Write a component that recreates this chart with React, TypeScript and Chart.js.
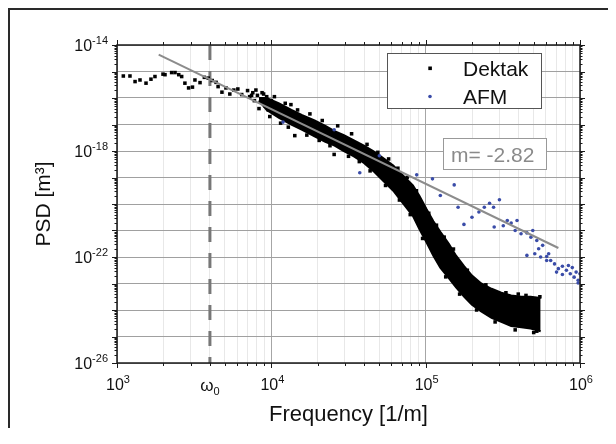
import React, { useEffect, useRef } from "react";
import { Chart, registerables } from "chart.js";

Chart.register(...registerables);

const FONT = "'Liberation Sans', Arial, sans-serif";

// axis ranges & labels
const xMin = 1e3;
const xMax = 1e6;
const yMin = 1e-26;
const yMax = 1e-14;
const xLabelExponents = [3, 4, 5, 6];
const yLabelExponents = [-14, -18, -22, -26];
const omega0Freq = 4000;
const omega0Symbol = "ω";
const omega0Sub = "0";
const xTitle = "Frequency [1/m]";
const yTitle = "PSD [m³]";
const seriesNames = ["Dektak", "AFM"];
const slopeText = "m= -2.82";

// Dektak individual points (log10 frequency, log10 PSD)
const dektakLogFreq = [
  3.041, 3.084, 3.117, 3.149, 3.188, 3.22, 3.246, 3.298, 3.311, 3.354, 3.376, 3.4, 3.419, 3.44, 3.464, 3.489,
  3.505, 3.538, 3.566, 3.591, 3.617, 3.642, 3.655, 3.68, 3.706, 3.731, 3.757, 3.783, 3.808, 3.846, 3.872,
  3.86, 3.88, 3.89, 3.91, 3.93, 3.94, 3.96, 3.97, 3.98, 4.0,
  3.9, 3.92, 3.95, 3.99, 4.02, 4.06, 4.09, 4.11, 4.127, 4.152, 4.17, 4.23, 4.25, 4.31, 4.33, 4.38, 4.407,
  4.43, 4.5, 4.52, 4.57, 4.62, 4.64, 4.69, 4.74, 4.76, 4.82, 4.83, 4.88, 4.9, 4.94, 4.98, 5.02, 5.057,
  5.07, 5.12, 5.13, 5.18, 5.22, 5.27, 5.33, 5.39, 5.45, 5.52, 5.58, 5.6, 5.65, 5.7, 5.72, 5.74,
];
const dektakLogPsd = [
  -15.17, -15.17, -15.38, -15.32, -15.44, -15.29, -15.19, -15.1, -15.12, -15.04, -15.04, -15.12, -15.19, -15.44, -15.62, -15.59,
  -15.32, -15.42, -15.22, -15.25, -15.34, -15.41, -15.57, -15.78, -15.62, -15.85, -15.7, -15.66, -15.87, -15.72, -15.9,
  -15.95, -15.8, -16.1, -15.9, -16.15, -15.8, -16.3, -15.95, -16.45, -16.1,
  -15.7, -16.4, -15.85, -16.7, -15.95, -16.95, -16.2, -17.1, -16.25, -17.42, -16.45, -17.4, -16.6, -17.6, -16.85, -17.8, -18.13,
  -17.05, -18.2, -17.35, -18.4, -17.75, -18.75, -18.05, -19.3, -18.3, -18.65, -19.85, -19.0, -20.4, -19.5, -21.3, -20.35, -21.81,
  -20.8, -21.25, -22.75, -21.7, -23.4, -22.5, -24.0, -23.05, -24.45, -23.35, -24.75, -23.4, -23.45, -24.85, -24.8, -23.5,
];

// Dektak dense cloud envelope (log10 frequency, upper / lower log10 PSD)
const dektakBandLogFreq = [
  3.92, 3.97, 4.05, 4.13, 4.2, 4.28, 4.35, 4.41, 4.47, 4.535, 4.6, 4.66, 4.72, 4.79, 4.85, 4.917,
  4.96, 5.006, 5.05, 5.095, 5.15, 5.197, 5.25, 5.3, 5.36, 5.427, 5.49, 5.554, 5.62, 5.68, 5.745,
];
const dektakBandUpperLogPsd = [
  -16.0, -16.0, -16.2, -16.45, -16.65, -16.85, -17.05, -17.25, -17.4, -17.6, -17.8, -18.0, -18.25, -18.55, -18.9, -19.3,
  -19.7, -20.2, -20.65, -21.05, -21.5, -21.95, -22.35, -22.7, -23.0, -23.2, -23.35, -23.45, -23.5, -23.5, -23.55,
];
const dektakBandLowerLogPsd = [
  -16.1, -16.45, -16.75, -17.0, -17.2, -17.45, -17.65, -17.8, -18.0, -18.2, -18.45, -18.75, -19.1, -19.5, -19.95, -20.45,
  -20.95, -21.45, -21.95, -22.4, -22.8, -23.15, -23.5, -23.8, -24.05, -24.3, -24.45, -24.6, -24.65, -24.7, -24.8,
];

// AFM points
const afmLogFreq = [
  4.076, 4.407, 4.7, 4.573, 4.942, 5.044, 5.185, 5.095, 5.21, 5.248, 5.3, 5.345, 5.38, 5.414, 5.44, 5.478,
  5.444, 5.503, 5.529, 5.554, 5.58, 5.592, 5.618, 5.656, 5.682, 5.694, 5.72, 5.758, 5.656, 5.707, 5.745, 5.784,
  5.81, 5.797, 5.835, 5.86, 5.886, 5.912, 5.925, 5.937, 5.962, 5.975, 5.988, 6.0, 5.848, 5.886, 5.95, 5.988,
  5.784, 5.732,
];
const afmLogPsd = [
  -16.91, -17.2, -18.18, -18.82, -18.9, -19.05, -19.28, -19.68, -20.12, -20.77, -20.5, -20.3, -20.12, -19.97, -20.12, -19.84,
  -20.87, -20.82, -20.62, -20.72, -21.0, -20.62, -21.12, -21.09, -21.25, -21.0, -21.38, -21.56, -21.94, -21.88, -22.0, -21.98,
  -22.13, -21.88, -22.26, -22.44, -22.35, -22.5, -22.32, -22.63, -22.76, -22.57, -22.88, -22.63, -22.57, -22.66, -22.4, -22.98,
  -22.13, -21.69,
];

// power-law fit line end points
const fitLogFreq = [3.27, 5.86];
const fitLogPsd = [-14.36, -21.66];

const toPoints = (lx: number[], ly: number[]) => lx.map((v, i) => ({ x: Math.pow(10, v), y: Math.pow(10, ly[i]) }));

const decadeValues = (lo: number, hi: number, withMinor: boolean) => {
  const out: number[] = [];
  for (let e = lo; e <= hi; e++) {
    for (let m = 1; m <= (withMinor ? 9 : 1); m++) {
      const v = m * Math.pow(10, e);
      if (e === hi && m > 1) break;
      out.push(v);
    }
  }
  return out;
};

const isDecade = (v: number) => Math.abs(Math.log10(v) - Math.round(Math.log10(v))) < 1e-6;

function drawPower(ctx: CanvasRenderingContext2D, exp: string, x: number, y: number, align: "right" | "center", baseSize: number, expSize: number, expRise: number) {
  ctx.font = `${baseSize}px ${FONT}`;
  const wb = ctx.measureText("10").width;
  ctx.font = `${expSize}px ${FONT}`;
  const we = ctx.measureText(exp).width;
  const total = wb + we;
  const start = align === "right" ? x - total : x - total / 2;
  ctx.textAlign = "left";
  ctx.textBaseline = "alphabetic";
  ctx.font = `${baseSize}px ${FONT}`;
  ctx.fillText("10", start, y);
  ctx.font = `${expSize}px ${FONT}`;
  ctx.fillText(exp, start + wb, y - expRise);
}

const decorPlugin = {
  id: "decor",
  beforeDatasetsDraw(chart: any) {
    const { ctx, chartArea: a, scales } = chart;
    const px = scales.x.getPixelForValue(omega0Freq);
    ctx.save();
    ctx.strokeStyle = "#777777";
    ctx.lineWidth = 3;
    ctx.setLineDash([15, 11]);
    ctx.beginPath();
    ctx.moveTo(px, a.top);
    ctx.lineTo(px, a.bottom);
    ctx.stroke();
    ctx.restore();
  },
  afterDraw(chart: any) {
    const { ctx, chartArea: a, scales } = chart;
    const x = scales.x;
    const y = scales.y;
    ctx.save();
    // frame
    ctx.strokeStyle = "#1a1a1a";
    ctx.lineWidth = 1.5;
    ctx.strokeRect(a.left, a.top, a.right - a.left, a.bottom - a.top);
    // ticks
    ctx.lineWidth = 1;
    ctx.beginPath();
    decadeValues(3, 6, true).forEach((v) => {
      const p = Math.round(x.getPixelForValue(v)) + 0.5;
      const len = isDecade(v) ? 5 : 3;
      ctx.moveTo(p, a.bottom);
      ctx.lineTo(p, a.bottom + len);
      ctx.moveTo(p, a.top);
      ctx.lineTo(p, a.top - len);
    });
    decadeValues(-26, -14, true).forEach((v) => {
      const p = Math.round(y.getPixelForValue(v)) + 0.5;
      const len = isDecade(v) ? 5 : 2.5;
      ctx.moveTo(a.left, p);
      ctx.lineTo(a.left - len, p);
      ctx.moveTo(a.right, p);
      ctx.lineTo(a.right + len, p);
    });
    ctx.stroke();

    // tick labels
    ctx.fillStyle = "#111111";
    yLabelExponents.forEach((e) => {
      const p = y.getPixelForValue(Math.pow(10, e));
      drawPower(ctx, String(e), a.left - 9, p + 6, "right", 16, 11, 7);
    });
    xLabelExponents.forEach((e) => {
      const p = x.getPixelForValue(Math.pow(10, e));
      drawPower(ctx, String(e), p + 1, a.bottom + 27, "center", 16, 11, 7);
    });
    {
      const p = x.getPixelForValue(omega0Freq);
      ctx.font = `17px ${FONT}`;
      const w1 = ctx.measureText(omega0Symbol).width;
      ctx.font = `11px ${FONT}`;
      const w2 = ctx.measureText(omega0Sub).width;
      const start = p - (w1 + w2) / 2;
      ctx.textAlign = "left";
      ctx.font = `17px ${FONT}`;
      ctx.fillText(omega0Symbol, start, a.bottom + 28);
      ctx.font = `11px ${FONT}`;
      ctx.fillText(omega0Sub, start + w1, a.bottom + 32);
    }

    // legend
    const lx = 377.5, ly = 43.5, lw = 154, lh = 55;
    ctx.fillStyle = "#ffffff";
    ctx.fillRect(lx, ly, lw, lh);
    ctx.strokeStyle = "#555555";
    ctx.lineWidth = 1;
    ctx.strokeRect(lx, ly, lw, lh);
    ctx.fillStyle = "#000000";
    ctx.fillRect(418.3, 56.5, 3.6, 3.6);
    ctx.fillStyle = "#3a4ca8";
    ctx.beginPath();
    ctx.arc(420, 86.5, 1.8, 0, Math.PI * 2);
    ctx.fill();
    ctx.fillStyle = "#111111";
    ctx.font = `21px ${FONT}`;
    ctx.textAlign = "left";
    ctx.textBaseline = "alphabetic";
    ctx.fillText(seriesNames[0], 453, 66);
    ctx.fillText(seriesNames[1], 453, 93.5);

    // slope box
    ctx.fillStyle = "#ffffff";
    ctx.fillRect(433.5, 128.5, 103, 31);
    ctx.strokeStyle = "#999999";
    ctx.strokeRect(433.5, 128.5, 103, 31);
    ctx.fillStyle = "#8a8a8a";
    ctx.font = `21px ${FONT}`;
    ctx.fillText(slopeText, 441, 151.5);
    ctx.restore();
  },
};

export default function App() {
  const ref = useRef<HTMLCanvasElement | null>(null);

  useEffect(() => {
    if (!ref.current) return;
    const chart = new Chart(ref.current, {
      type: "scatter",
      data: {
        datasets: [
          {
            type: "line",
            label: "fit",
            data: toPoints(fitLogFreq, fitLogPsd),
            borderColor: "#8c8c8c",
            borderWidth: 2,
            pointRadius: 0,
            fill: false,
          } as any,
          {
            label: seriesNames[1],
            data: toPoints(afmLogFreq, afmLogPsd),
            pointStyle: "circle",
            pointRadius: 1.8,
            borderWidth: 0,
            backgroundColor: "#3a4ca8",
          },
          {
            label: seriesNames[0],
            data: toPoints(dektakLogFreq, dektakLogPsd),
            pointStyle: "rect",
            pointRadius: 2.5,
            borderWidth: 0,
            backgroundColor: "#000000",
          },
          {
            type: "line",
            label: "band-upper",
            data: toPoints(dektakBandLogFreq, dektakBandUpperLogPsd),
            borderColor: "#000000",
            borderWidth: 2,
            pointRadius: 0,
            backgroundColor: "#000000",
            fill: "+1",
          } as any,
          {
            type: "line",
            label: "band-lower",
            data: toPoints(dektakBandLogFreq, dektakBandLowerLogPsd),
            borderColor: "#000000",
            borderWidth: 2,
            pointRadius: 0,
            fill: false,
          } as any,
        ],
      },
      options: {
        animation: false,
        responsive: false,
        devicePixelRatio: 1,
        layout: { padding: { left: 0, top: 35, right: 30, bottom: 0 } },
        plugins: {
          legend: { display: false },
          tooltip: { enabled: false },
        },
        scales: {
          x: {
            type: "logarithmic",
            min: xMin,
            max: xMax,
            afterBuildTicks: (scale: any) => {
              scale.ticks = decadeValues(3, 6, true).map((v) => ({ value: v }));
            },
            afterFit: (scale: any) => {
              scale.height = 83;
            },
            ticks: { display: false },
            border: { display: false },
            grid: {
              drawTicks: false,
              lineWidth: 1,
              color: (c: any) => (isDecade(c.tick.value) ? "#a6a6a6" : "#e8e8e8"),
            },
            title: {
              display: true,
              text: xTitle,
              color: "#111111",
              font: { family: FONT, size: 22 },
              padding: { top: 0, bottom: 18 },
            },
          },
          y: {
            type: "logarithmic",
            min: yMin,
            max: yMax,
            afterBuildTicks: (scale: any) => {
              scale.ticks = decadeValues(-26, -14, false).map((v) => ({ value: v }));
            },
            afterFit: (scale: any) => {
              scale.width = 107;
            },
            ticks: { display: false },
            border: { display: false },
            grid: {
              drawTicks: false,
              lineWidth: 1,
              color: "#a0a0a0",
            },
            title: {
              display: true,
              text: yTitle,
              color: "#111111",
              font: { family: FONT, size: 21 },
              padding: { top: 22, bottom: 0 },
            },
          },
        },
      },
      plugins: [decorPlugin],
    } as any);
    return () => chart.destroy();
  }, []);

  return (
    <div
      style={{
        width: 600,
        height: 436,
        border: "2px solid #2a2a2a",
        marginBottom: -20,
        background: "#ffffff",
      }}
    >
      <canvas ref={ref} width={600} height={436} style={{ display: "block" }} />
    </div>
  );
}
